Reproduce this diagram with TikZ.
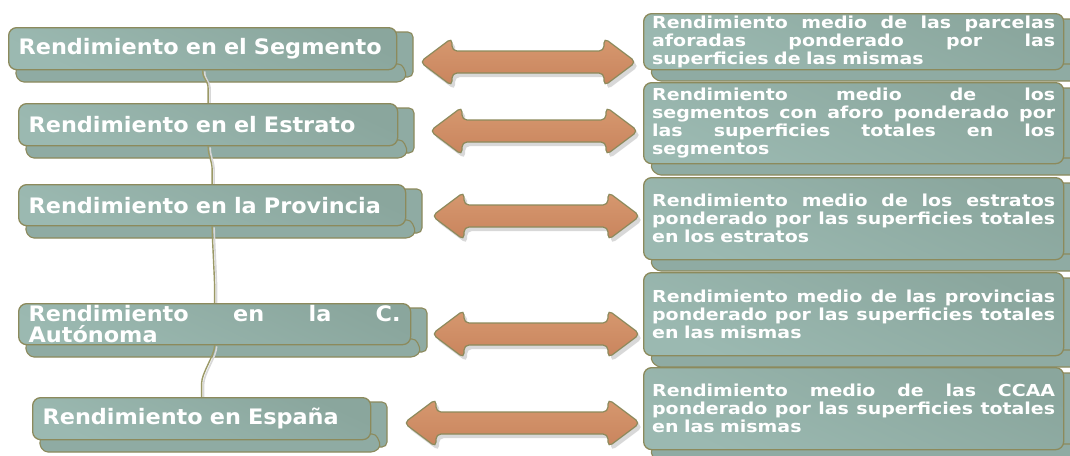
\documentclass[tikz,border=0pt]{standalone}
\usepackage{fontspec}
\setmainfont{DejaVu Sans}
\newfontfamily\lfont[FakeStretch=1.05]{DejaVu Sans}
\newfontfamily\rfont[FakeStretch=1.15]{DejaVu Sans}
\usetikzlibrary{calc}
\definecolor{boxdark}{HTML}{8AA69D}
\definecolor{boxlight}{HTML}{9BB9B1}
\definecolor{tabfill}{HTML}{8FABA3}
\definecolor{edgec}{HTML}{8C8A5C}
\definecolor{arrfill}{HTML}{C9845D}
\definecolor{arrlight}{HTML}{D6986F}
\definecolor{shadowc}{HTML}{D8D8D8}
\definecolor{linec}{HTML}{9B9966}
\pgfdeclarelayer{bg}
\pgfsetlayers{bg,main}
\tikzset{
  boxbase/.style={draw=edgec, line width=1.3pt, rounded corners=8pt,
    top color=boxdark, bottom color=boxlight, shading angle=-25,
    text=white, align=left, anchor=north west},
  lbox/.style={boxbase, inner xsep=10pt, inner ysep=1pt,
    font=\lfont\bfseries\fontsize{21.3}{21}\selectfont},
  rbox/.style={boxbase, inner xsep=8.5pt, inner ysep=1pt, text width=403pt,
    font=\rfont\bfseries\fontsize{16.5}{18}\selectfont},
  tab/.style={draw=edgec, line width=1.1pt, fill=tabfill, rounded corners=5pt},
  arrbody/.style={draw=edgec, line width=1.2pt, top color=arrlight, bottom color=arrfill, rounded corners=5pt},
  arrshadow/.style={fill=shadowc, rounded corners=5pt},
  conn/.style={draw=linec, line width=1.4pt},
  connshadow/.style={draw=shadowc, line width=1.6pt, transform canvas={xshift=2pt,yshift=-1pt}}
}
\newcommand\justto[2]{\leavevmode\hbox to #1{\spaceskip=\fontdimen2\font plus 1fil\relax\xspaceskip=\spaceskip #2}}
\newcommand\jline[1]{\justto{403pt}{#1}}
\newcommand\dblarrow[3]{%
  \fill[arrshadow,shift={(3,4)}] (#1,#3) -- (#1+32,#3-24) -- (#1+32,#3-11) -- (#2-32,#3-11) -- (#2-32,#3-24) -- (#2,#3) -- (#2-32,#3+24) -- (#2-32,#3+11) -- (#1+32,#3+11) -- (#1+32,#3+24) -- cycle;
  \draw[arrbody] (#1,#3) -- (#1+32,#3-24) -- (#1+32,#3-11) -- (#2-32,#3-11) -- (#2-32,#3-24) -- (#2,#3) -- (#2-32,#3+24) -- (#2-32,#3+11) -- (#1+32,#3+11) -- (#1+32,#3+24) -- cycle;}
% left tabs: x0 x1 y0 y1 of main box
\newcommand\ltabs[4]{%
  \draw[tab] (#2-8,#3+5) rectangle (#2+17,#4+8);
  \draw[tab,rounded corners=4pt] (#1+10,#4-5) -- (#2+6,#4-5) -- (#2+11,#4+7) -- (#2+5,#4+13) -- (#1+12,#4+13) -- (#1+7,#4+5) -- cycle;}
\newcommand\rtabs[2]{%
  \draw[tab] (1055,#1+6) rectangle (1090,#2+6);
  \draw[tab,rounded corners=4pt] (655,#2-5) -- (1090,#2-5) -- (1090,#2+12) -- (657,#2+12) -- (650,#2+4) -- cycle;}
\newcommand\connect[2]{%
  \draw[connshadow] (#1.south) .. controls +(0,10) and +(0,-10) .. ($(#2.north)+(0,-14)$) -- (#2.north);
  \draw[conn] (#1.south) .. controls +(0,10) and +(0,-10) .. ($(#2.north)+(0,-14)$) -- (#2.north);}
\begin{document}
\begin{tikzpicture}[x=1pt,y=-1pt]
\useasboundingbox (0,0) rectangle (1070,455);
% left boxes
\node[lbox, text width=368pt, minimum height=42pt] (l1) at (8,27) {\mbox{Rendimiento en el Segmento}};
\node[lbox, text width=359pt, minimum height=42pt] (l2) at (18,103) {\mbox{Rendimiento en el Estrato}};
\node[lbox, text width=367pt, minimum height=41pt] (l3) at (18,184) {\mbox{Rendimiento en la Provincia}};
\node[lbox, text width=372pt, minimum height=41pt] (l4) at (18,303) {\justto{372pt}{Rendimiento en la C.}\\Autónoma};
\node[lbox, text width=318pt, minimum height=42pt] (l5) at (32,397) {\mbox{Rendimiento en España}};
% right boxes
\node[rbox, minimum height=56pt] (r1) at (643,13) {\jline{Rendimiento medio de las parcelas}\\\jline{aforadas ponderado por las}\\superficies de las mismas};
\node[rbox, minimum height=81pt] (r2) at (643,82) {\jline{Rendimiento medio de los}\\\jline{segmentos con aforo ponderado por}\\\jline{las superficies totales en los}\\segmentos};
\node[rbox, minimum height=82pt] (r3) at (643,177) {\jline{Rendimiento medio de los estratos}\\\jline{ponderado por las superficies totales}\\en los estratos};
\node[rbox, minimum height=83pt] (r4) at (643,272) {\jline{Rendimiento medio de las provincias}\\\jline{ponderado por las superficies totales}\\en las mismas};
\node[rbox, minimum height=82pt] (r5) at (643,367) {\jline{Rendimiento medio de las CCAA}\\\jline{ponderado por las superficies totales}\\en las mismas};
% arrows
\dblarrow{420}{636}{62}
\dblarrow{430}{638}{131}
\dblarrow{432}{640}{216}
\dblarrow{432}{640}{334}
\dblarrow{404}{640}{423}
\begin{pgfonlayer}{bg}
\fill[white] (0,0) rectangle (1070,455);
\ltabs{8}{396}{27}{69}
\ltabs{18}{397}{103}{145}
\ltabs{18}{405}{184}{225}
\ltabs{18}{410}{303}{344}
\ltabs{32}{370}{397}{439}
\rtabs{13}{69}
\rtabs{82}{163}
\rtabs{177}{259}
\rtabs{272}{355}
\rtabs{367}{449}
\connect{l1}{l2}
\connect{l2}{l3}
\connect{l3}{l4}
\connect{l4}{l5}
\end{pgfonlayer}
\end{tikzpicture}
\end{document}
